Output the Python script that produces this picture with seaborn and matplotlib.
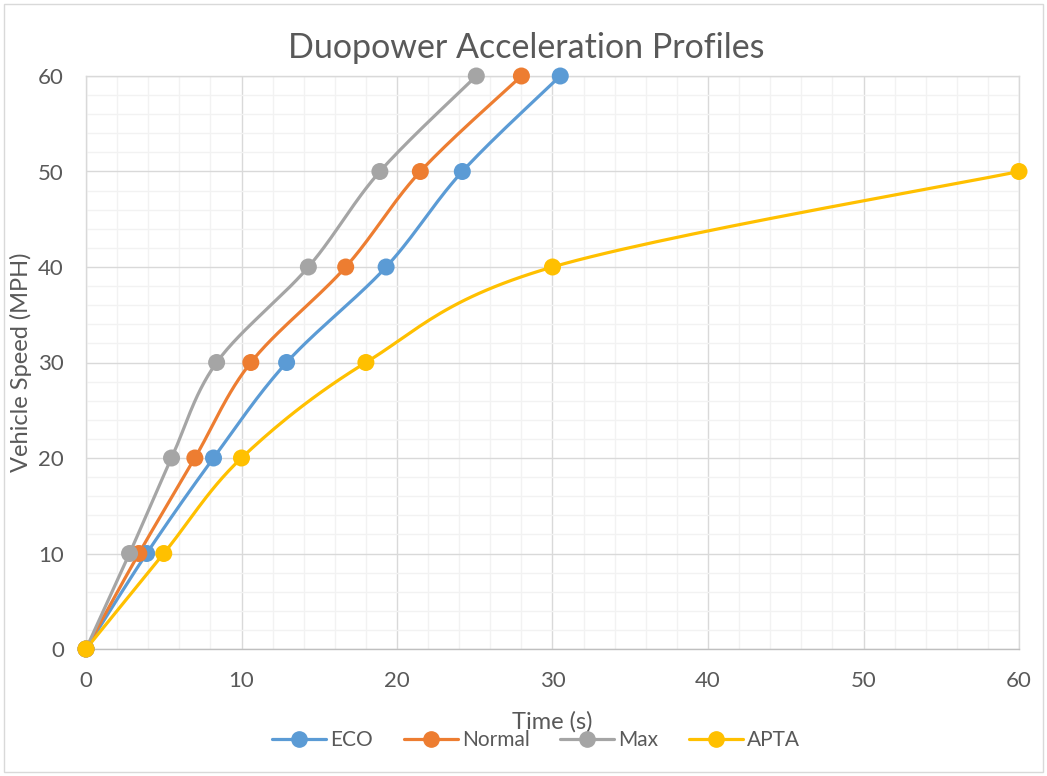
import numpy as np
import pandas as pd
import matplotlib
matplotlib.use('Agg')
import matplotlib.pyplot as plt
from matplotlib.lines import Line2D
from matplotlib.patches import Rectangle
import seaborn as sns

sns.set_style('white')
plt.rcParams['font.family'] = ['Lato', 'DejaVu Sans']

speed = [0, 10, 20, 30, 40, 50, 60]
eco_t = [0, 3.9, 8.2, 12.9, 19.3, 24.2, 30.5]
normal_t = [0, 3.4, 7.0, 10.6, 16.7, 21.5, 28.0]
max_t = [0, 2.8, 5.5, 8.4, 14.3, 18.9, 25.1]
apta_speed = [0, 10, 20, 30, 40, 50]
apta_t = [0, 5.0, 10.0, 18.0, 30.0, 60.0]

series = ['ECO', 'Normal', 'Max', 'APTA']
colors = {'ECO': '#5B9BD5', 'Normal': '#ED7D31', 'Max': '#A5A5A5', 'APTA': '#FFC000'}

df = pd.concat([
    pd.DataFrame({'Time': eco_t, 'Speed': speed, 'Mode': 'ECO'}),
    pd.DataFrame({'Time': normal_t, 'Speed': speed, 'Mode': 'Normal'}),
    pd.DataFrame({'Time': max_t, 'Speed': speed, 'Mode': 'Max'}),
    pd.DataFrame({'Time': apta_t, 'Speed': apta_speed, 'Mode': 'APTA'}),
], ignore_index=True)


def smooth(x, y, n=30):
    # excel style smoothed line (bezier through the points)
    p = np.column_stack([x, y]).astype(float)
    p = np.vstack([p[0], p, p[-1]])
    out = []
    for i in range(1, len(p) - 2):
        p0, p1, p2, p3 = p[i - 1], p[i], p[i + 1], p[i + 2]
        c1 = p1 + (p2 - p0) / 6
        c2 = p2 - (p3 - p1) / 6
        t = np.linspace(0, 1, n)[:, None]
        seg = (1 - t) ** 3 * p1 + 3 * (1 - t) ** 2 * t * c1 + 3 * (1 - t) * t ** 2 * c2 + t ** 3 * p2
        out.append(seg if i == 1 else seg[1:])
    out = np.vstack(out)
    return out[:, 0], out[:, 1]


fig = plt.figure(figsize=(10.47, 7.76), dpi=100)
ax = fig.add_axes([86 / 1047, 1 - 649 / 776, (1019 - 86) / 1047, (649 - 76) / 776])
fig.patches.append(Rectangle((4 / 1047, 4 / 776), 1 - 8 / 1047, 1 - 8 / 776, transform=fig.transFigure,
                             fill=False, edgecolor='#D9D9D9', linewidth=1))

for m in series:
    d = df[df['Mode'] == m]
    sx, sy = smooth(d['Time'].values, d['Speed'].values)
    sns.lineplot(x=sx, y=sy, sort=False, color=colors[m], linewidth=2.3, ax=ax, zorder=3)
    sns.scatterplot(data=d, x='Time', y='Speed', color=colors[m], s=150, edgecolor='none', ax=ax,
                    zorder=4, clip_on=False)

ax.set_xlim(0, 60)
ax.set_ylim(0, 60)
ax.set_xticks(np.arange(0, 61, 10))
ax.set_yticks(np.arange(0, 61, 10))
ax.set_xticks(np.arange(0, 61, 2), minor=True)
ax.set_yticks(np.arange(0, 61, 2), minor=True)
ax.grid(True, which='minor', color='#F2F2F2', linewidth=1, zorder=0)
ax.grid(True, which='major', color='#D9D9D9', linewidth=1, zorder=1)
ax.set_axisbelow(True)
for s in ax.spines.values():
    s.set_color('#D9D9D9')
    s.set_linewidth(1)
ax.spines['bottom'].set_color('#BFBFBF')
ax.tick_params(which='both', length=0, labelsize=16, labelcolor='#595959')
ax.tick_params(axis='x', pad=16)
ax.tick_params(axis='y', pad=16)

fig.text(0.5025, 1 - 48 / 776, 'Duopower Acceleration Profiles', fontsize=24.5, color='#595959',
         ha='center', va='center')
ax.set_xlabel('Time (s)', fontsize=17, color='#595959', labelpad=14)
ax.set_ylabel('Vehicle Speed (MPH)', fontsize=17, color='#595959', labelpad=4)

handles = [Line2D([0], [0], color=colors[m], linewidth=2.3, marker='o', markersize=11) for m in series]
fig.legend(handles, series, loc='center', bbox_to_anchor=(0.512, 0.046), ncol=4, frameon=False,
           fontsize=15, handlelength=2.6, handletextpad=0.2, columnspacing=1.45, labelcolor='#595959')

fig.savefig('out.png', dpi=100)
